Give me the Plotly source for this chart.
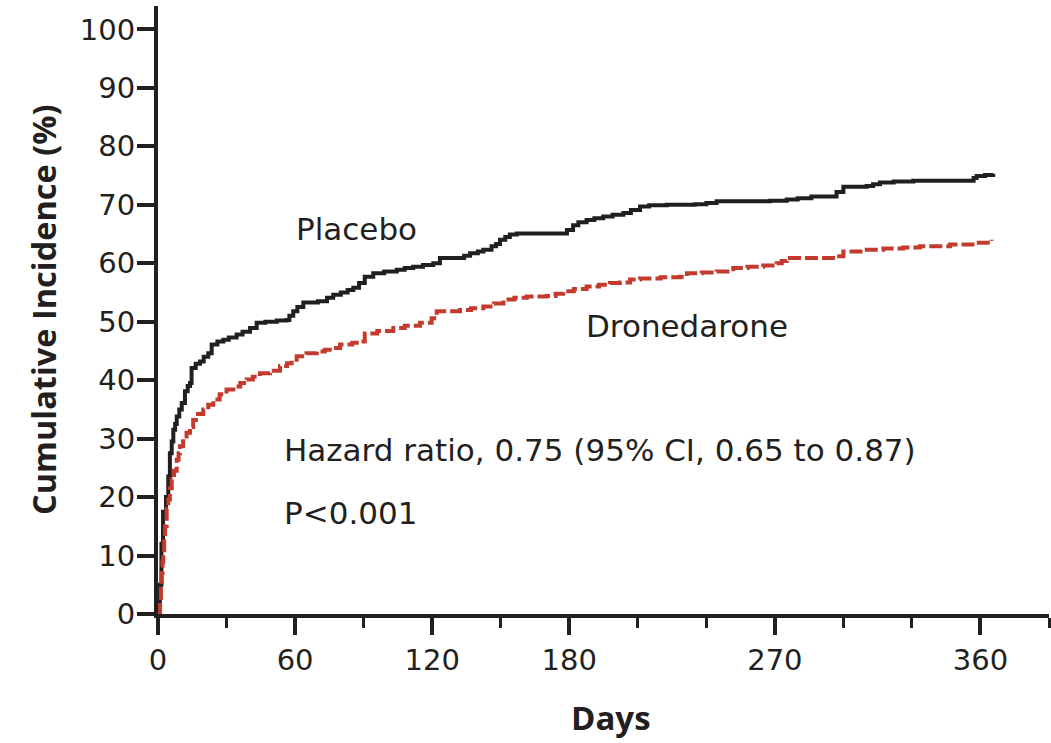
import plotly.graph_objects as go

# Kaplan-Meier style cumulative incidence (%) by day
placebo_days = [0, 0.8, 1.5, 2.2, 3.5, 4.5, 5.2, 6.0, 6.7, 7.5, 8.2, 9.3, 10.4, 11.8, 13, 14, 14.7,
                16.5, 18.4, 20, 22, 23.5, 26, 28.6, 31, 34.4, 37, 40.3, 43.2, 47, 52, 56.3, 57.5,
                59.2, 61, 63.6, 70, 74, 76.7, 80, 83, 85.5, 88, 90.5, 94.2, 99, 104.5, 108, 111.7,
                116, 120.5, 123.4, 134, 136.6, 140, 142.4, 146, 148, 149.7, 152, 154, 157, 179,
                181.7, 184, 187.6, 191, 194.9, 199, 203.7, 207, 211, 215, 222.7, 235, 240, 244.5,
                268, 275.2, 280, 286, 297, 300, 310.2, 313, 316, 322, 330.6, 357, 358.3, 362, 365.6]
placebo_pct = [0, 5, 12, 17.5, 20, 23.5, 27.5, 29.5, 31.5, 32.5, 33.8, 35, 36.1, 38.1, 39, 39.5, 42.1,
               42.8, 43.2, 44, 44.6, 46.1, 46.6, 46.9, 47.3, 47.8, 48.3, 48.9, 49.8, 50, 50.2, 50.3, 51,
               51.8, 52.5, 53.3, 53.5, 54.1, 54.6, 55, 55.4, 55.8, 56.6, 57.7, 58.3, 58.6, 58.9, 59.2, 59.4,
               59.7, 60, 60.9, 61.3, 61.7, 62, 62.3, 62.9, 63.3, 64, 64.5, 64.9, 65.1, 65.7,
               66.5, 67, 67.4, 67.7, 68, 68.3, 68.6, 69.1, 69.7, 69.9, 70, 70.1, 70.3, 70.6,
               70.7, 70.9, 71.1, 71.4, 72.2, 73.1, 73.2, 73.5, 73.8, 74, 74.1, 74.6, 74.9, 75.1, 75.3]

dronedarone_days = [0, 0.9, 1.3, 1.6, 2.0, 2.3, 2.7, 3.1, 3.8, 4.5, 5.2, 6, 7, 8.2, 9, 9.6, 11, 12.5,
                    14, 15.4, 17.5, 19.8, 22, 24.2, 27, 30, 33, 36, 38.8, 41.5, 44.6, 49, 53.4, 56.5,
                    58.5, 60.7, 65, 69.5, 73, 76.7, 79.7, 85, 89.1, 90.5, 96, 103, 108, 114.7, 119.8,
                    122, 132.2, 137, 142.4, 147, 151.2, 156, 161.4, 170.1, 174, 177.4, 182, 187.6, 193,
                    197.8, 202.2, 206.6, 211, 220, 228.5, 231.5, 238, 244.5, 251.8, 258, 264.9, 270.8,
                    273, 275.2, 297, 300, 308.7, 317.5, 326.2, 333.5, 346.7, 358.3, 364.9]
dronedarone_pct = [0, 2, 5, 7, 9, 10.5, 13, 15, 18, 19.6, 21.5, 23, 24.5, 26.4, 27.5, 28.7, 30, 31,
                   32, 33.2, 34.2, 35, 35.8, 36.7, 37.6, 38.4, 38.9, 39.5, 40.1, 40.6, 41.2, 41.6, 42.4, 42.9,
                   43.5, 44.1, 44.6, 44.9, 45.2, 45.5, 46.1, 46.4, 46.6, 48, 48.4, 48.9, 49.3, 49.8, 50.6,
                   51.8, 52, 52.3, 52.6, 53.1, 53.8, 54.1, 54.3, 54.4, 54.8, 55.2, 55.6, 56, 56.3,
                   56.6, 56.7, 57.2, 57.4, 57.6, 57.7, 58.3, 58.4, 58.6, 59.2, 59.4, 59.6, 60,
                   60.4, 60.9, 61.2, 62, 62.3, 62.5, 62.7, 62.9, 63.2, 63.5, 64]

x_major = [0, 60, 120, 180, 270, 360]
x_minor = [30, 90, 150, 210, 240, 300, 330, 390]
y_ticks = list(range(0, 101, 10))

INK = "#231f20"
RED = "#c43b2d"
TEXT_FONT = "DejaVu Sans"
TITLE_FONT = "Open Sans"

fig = go.Figure()
fig.add_trace(go.Scatter(x=placebo_days, y=placebo_pct, mode="lines", line_shape="hv",
                         line=dict(color=INK, width=4), name="Placebo", showlegend=False))
fig.add_trace(go.Scatter(x=dronedarone_days, y=dronedarone_pct, mode="lines", line_shape="hv",
                         line=dict(color=RED, width=4, dash="13px,4px"), name="Dronedarone",
                         showlegend=False))

tick_font = dict(size=29, family=TEXT_FONT, color=INK)
fig.update_layout(
    width=1051, height=743,
    margin=dict(l=158, r=2, t=6, b=129, pad=0),
    paper_bgcolor="white", plot_bgcolor="white",
    font=dict(family=TEXT_FONT, color=INK, size=31),
    xaxis=dict(range=[0, 390], tickmode="array", tickvals=x_major,
               ticktext=[str(v) for v in x_major],
               ticks="outside", ticklen=17, tickwidth=4, tickcolor=INK,
               showline=True, linewidth=4, linecolor=INK,
               showgrid=False, zeroline=False, tickfont=tick_font,
               minor=dict(tickmode="array", tickvals=x_minor, ticks="outside",
                          ticklen=10, tickwidth=3, tickcolor=INK, showgrid=False)),
    yaxis=dict(range=[0, 104], tickmode="array", tickvals=y_ticks,
               ticks="outside", ticklen=17, tickwidth=4, tickcolor=INK,
               ticklabelstandoff=-4,
               showline=True, linewidth=4, linecolor=INK,
               showgrid=False, zeroline=False, tickfont=tick_font),
)

annotations = [
    dict(text="<b>Cumulative Incidence (%)</b>", xref="paper", yref="paper",
         x=-0.129, y=0.5, textangle=-90, showarrow=False,
         xanchor="center", yanchor="middle", font=dict(size=32.5, family=TITLE_FONT)),
    dict(text="<b>Days</b>", xref="paper", yref="paper", x=0.508, y=-0.170,
         showarrow=False, xanchor="center", yanchor="middle",
         font=dict(size=33, family=TITLE_FONT)),
    dict(text="Placebo", x=86.7, y=65.9, showarrow=False,
         xanchor="center", yanchor="middle"),
    dict(text="Dronedarone", x=231.5, y=49.3, showarrow=False,
         xanchor="center", yanchor="middle"),
    dict(text="Hazard ratio, 0.75 (95% CI, 0.65 to 0.87)", x=54.3, y=28.0,
         showarrow=False, xanchor="left", yanchor="middle"),
    dict(text="P<0.001", x=54.3, y=17.2, showarrow=False,
         xanchor="left", yanchor="middle"),
]
fig.update_layout(annotations=annotations)

fig.write_html("out.html")
